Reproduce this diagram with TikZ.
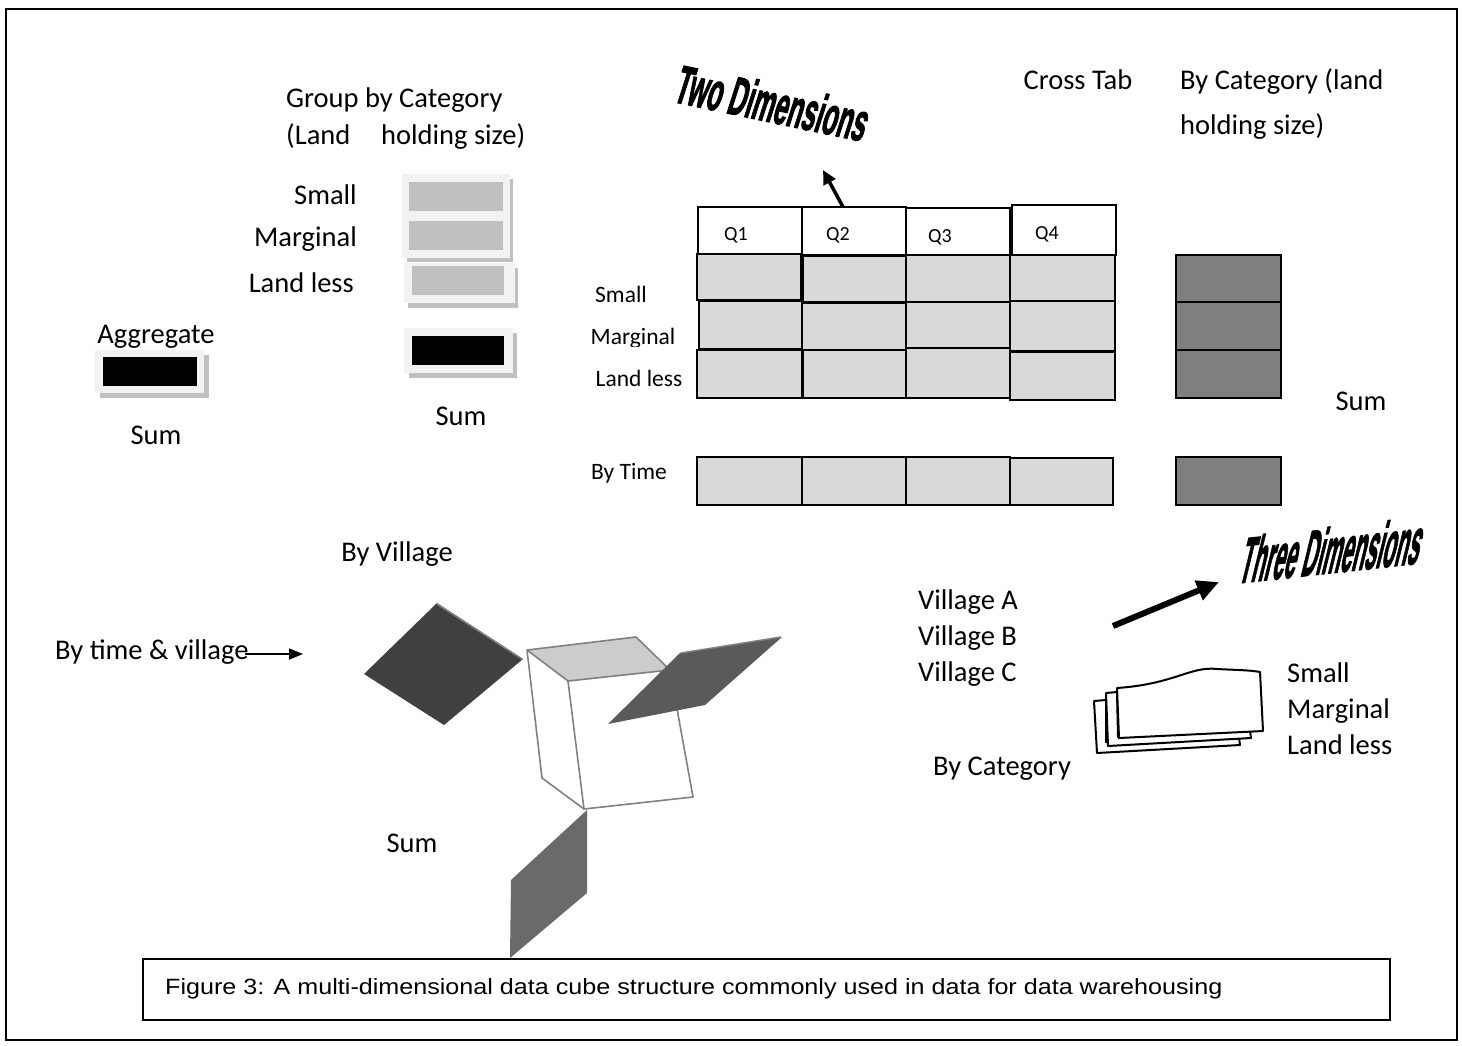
\documentclass[tikz,border=0pt]{standalone}
\usepackage{fontspec}
\setmainfont{Carlito}
\newfontfamily\arialf{Liberation Sans}
\newfontfamily\heavyf{Liberation Sans Bold}[FakeBold=2.5]
\usetikzlibrary{arrows.meta}
\definecolor{cellgray}{HTML}{D9D9D9}
\definecolor{darkcell}{HTML}{7F7F7F}
\definecolor{boxbg}{HTML}{F2F2F2}
\definecolor{boxin}{HTML}{BFBFBF}
\definecolor{shadowc}{HTML}{C0C0C0}
\definecolor{cubeline}{HTML}{808080}
\definecolor{topface}{HTML}{CCCCCC}
\definecolor{pleft}{HTML}{404040}
\definecolor{pright}{HTML}{5A5A5A}
\definecolor{pbottom}{HTML}{6A6A6A}
\begin{document}
\begin{tikzpicture}[x=1pt,y=-1pt,
  lbl/.style={inner sep=0pt, font=\fontsize{28.5}{32}\selectfont},
  slbl/.style={inner sep=0pt, font=\fontsize{23.5}{27}\selectfont},
  qlbl/.style={inner sep=0pt, font=\fontsize{20}{24}\selectfont},
  cell/.style={fill=cellgray, draw=black, line width=1.8pt},
  qcell/.style={fill=white, draw=black, line width=1.8pt},
  dcell/.style={fill=darkcell, draw=black, line width=1.8pt},
  outerbox/.style={fill=boxbg},
  shadowbox/.style={fill=shadowc},
  cubeedge/.style={draw=cubeline, line width=1.6pt, line join=round},
  sheet/.style={fill=white, draw=black, line width=2pt, line join=round},
  wordart/.style={inner sep=0pt, transform shape}
]
\useasboundingbox (0,0) rectangle (1462,1045);
% outer frame
\draw[line width=2pt] (6,9) rectangle (1457,1040);

% ---------- Aggregate ----------
\node[lbl, anchor=base] (aggr) at (156,343) {Aggregate};
\fill[shadowbox] (100,355) rectangle (209,398);
\fill[outerbox] (95,350) rectangle (204,393);
\fill[black] (103,357) rectangle (197,386);
\node[lbl, anchor=base] (sum1) at (156,444) {Sum};

% ---------- Group by category ----------
\node[lbl, anchor=base west] (grp1) at (286,107) {Group by Category};
\node[lbl, anchor=base west] (grp2) at (286,144) {(Land};
\node[lbl, anchor=base west] (grp3) at (381,144) {holding size)};
\node[lbl, anchor=base east] (gsmall) at (357,204) {Small};
\node[lbl, anchor=base east] (gmarg) at (357,246) {Marginal};
\node[lbl, anchor=base east] (gland) at (354,292) {Land less};
\fill[shadowbox] (407,179) rectangle (513,262);
\fill[outerbox] (402,174) rectangle (510,258);
\fill[boxin] (409,182) rectangle (503,211);
\fill[boxin] (409,221) rectangle (503,250);
\fill[shadowbox] (408,268) rectangle (518,308);
\fill[outerbox] (404,263) rectangle (515,303);
\fill[boxin] (412,266) rectangle (504,295);
\fill[shadowbox] (409,333) rectangle (517,378);
\fill[outerbox] (404,328) rectangle (513,373);
\fill[black] (412,336) rectangle (504,365);
\node[lbl, anchor=base] (sum2) at (461,425) {Sum};

% ---------- Two Dimensions ----------
\node[wordart, yslant=-0.21, xslant=0.3] (twodim) at (773,103)
  {\resizebox{190pt}{40pt}{\heavyf Two Dimensions}};
\coordinate (tdA) at (843,207);
\coordinate (tdB) at (823,170);
\draw[line width=3.5pt, -{Triangle[length=14pt,width=13pt]}] (tdA) -- (tdB);

% ---------- Cross tab grid ----------
\draw[qcell] (698,207) rectangle (802,255);
\draw[qcell] (802,207) rectangle (906,255);
\draw[qcell] (906,208) rectangle (1010,255);
\draw[qcell] (1012,205) rectangle (1116,255);
\node[qlbl, anchor=base] (q1) at (736,240) {Q1};
\node[qlbl, anchor=base] (q2) at (838,240) {Q2};
\node[qlbl, anchor=base] (q3) at (940,242) {Q3};
\node[qlbl, anchor=base] (q4) at (1047,239) {Q4};

\draw[cell] (697,254) rectangle (801,300);
\draw[cell] (803,256) rectangle (906,302);
\draw[cell] (906,255) rectangle (1010,302);
\draw[cell] (1010,255) rectangle (1115,301);
\draw[cell] (699,301) rectangle (802,349);
\draw[cell] (802,303) rectangle (906,350);
\draw[cell] (906,302) rectangle (1010,348);
\draw[cell] (1010,301) rectangle (1115,351);
\draw[cell] (697,350) rectangle (802,398);
\draw[cell] (803,350) rectangle (906,398);
\draw[cell] (906,348) rectangle (1010,398);
\draw[cell] (1010,352) rectangle (1115,400);

\draw[cell] (697,457) rectangle (802,505);
\draw[cell] (802,457) rectangle (906,505);
\draw[cell] (906,457) rectangle (1010,505);
\draw[cell] (1010,458) rectangle (1113,505);

\node[slbl, anchor=base] (rsmall) at (621,302) {Small};
\begin{scope}
  \clip (580,320) rectangle (697,346);
  \node[slbl, anchor=base] (rmarg) at (633,344) {Marginal};
\end{scope}
\node[slbl, anchor=base] (rland) at (639,386) {Land less};
\begin{scope}
  \clip (580,450) rectangle (697,482);
  \node[slbl, anchor=base] (rtime) at (629,479) {By Time};
\end{scope}

\draw[dcell] (1176,255) rectangle (1281,302);
\draw[dcell] (1176,302) rectangle (1281,350);
\draw[dcell] (1176,350) rectangle (1281,398);
\draw[dcell] (1176,457) rectangle (1281,505);

\node[lbl, anchor=base] (ctab) at (1078,89) {Cross Tab};
\node[lbl, anchor=base west] (bycat1) at (1180,89) {By Category (land};
\node[lbl, anchor=base west] (bycat2) at (1180,134) {holding size)};
\node[lbl, anchor=base] (sum3) at (1361,410) {Sum};

% ---------- Cube ----------
\node[lbl, anchor=base] (byvil) at (397,561) {By Village};
\node[lbl, anchor=base west] (bytv) at (55,659) {By time \& village};
\coordinate (tvA) at (245,654);
\coordinate (tvB) at (303,654);
\draw[line width=1.5pt, -{Triangle[length=14pt,width=11pt]}] (tvA) -- (tvB);

% left dark panel
\fill[pleft] (437,603) -- (523,659) -- (444,725) -- (364,674) -- cycle;
\draw[line width=1.5pt, draw=gray] (437,604) -- (522,659);
% cube
\fill[topface] (527,650) -- (636,637) -- (670,670) -- (568,681) -- cycle;
\draw[cubeedge] (527,650) -- (636,637) -- (670,670) -- (568,681) -- cycle;
\draw[cubeedge] (527,650) -- (542,778) -- (584,809) -- (693,797) -- (670,670);
\draw[cubeedge] (568,681) -- (584,809);
% right panel
\fill[pright] (680,653) -- (782,637) -- (705,705) -- (608,724) -- cycle;
\draw[line width=1.5pt, draw=gray] (681,653) -- (781,637);
% bottom panel
\fill[pbottom] (587,810) -- (587,893) -- (510,958) -- (511,880) -- cycle;
\node[lbl, anchor=base] (sum4) at (412,852) {Sum};

% ---------- Three dimensions ----------
\node[wordart, yslant=0.11, xslant=0.25] (threedim) at (1333,550)
  {\resizebox{180pt}{46pt}{\heavyf Three Dimensions}};
\coordinate (thA) at (1113,626);
\coordinate (thB) at (1219,582);
\draw[line width=6pt, -{Triangle[length=22pt,width=20pt]}] (thA) -- (thB);

\node[lbl, anchor=base west] (vila) at (918,609) {Village A};
\node[lbl, anchor=base west] (vilb) at (918,645) {Village B};
\node[lbl, anchor=base west] (vilc) at (918,681) {Village C};

% paper stack
\draw[sheet] (1094,701) -- (1097,753) -- (1240,745) -- (1239,738) -- (1106,742) -- (1106,700) -- cycle;
\draw[sheet] (1106,693) -- (1108,746) -- (1251,738) -- (1250,731) -- (1118,737) -- (1117,692) -- cycle;
\draw[sheet] (1117,688) .. controls (1175,684) and (1190,666) .. (1217,669)
  .. controls (1235,670) and (1250,670) .. (1260,672) -- (1263,731) -- (1119,738) -- cycle;

\node[lbl, anchor=base west] (psmall) at (1287,682) {Small};
\node[lbl, anchor=base west] (pmarg) at (1287,718) {Marginal};
\node[lbl, anchor=base west] (pland) at (1287,754) {Land less};
\node[lbl, anchor=base] (pcat) at (1002,775) {By Category};

% ---------- Caption ----------
\draw[line width=1.5pt] (143,959) rectangle (1390,1020);
\node[inner sep=0pt, anchor=base west] (caption) at (165,994)
  {\resizebox{1057pt}{16pt}{\arialf Figure 3: A multi-dimensional data cube structure commonly used in data for data warehousing}};
\end{tikzpicture}
\end{document}
